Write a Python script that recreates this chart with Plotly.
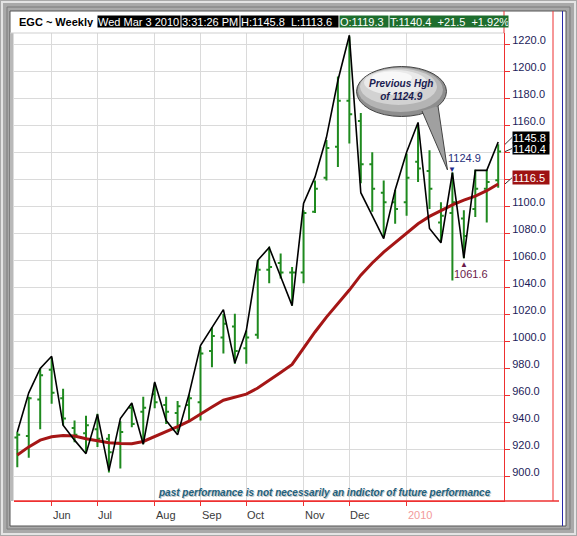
import plotly.graph_objects as go

# ---------------- data ----------------
dates = ["2009-05-15", "2009-05-22", "2009-05-29", "2009-06-05", "2009-06-12", "2009-06-19",
         "2009-06-26", "2009-07-02", "2009-07-10", "2009-07-17", "2009-07-24", "2009-07-31",
         "2009-08-07", "2009-08-14", "2009-08-21", "2009-08-28", "2009-09-04", "2009-09-11",
         "2009-09-18", "2009-09-25", "2009-10-02", "2009-10-09", "2009-10-16", "2009-10-23",
         "2009-10-30", "2009-11-06", "2009-11-13", "2009-11-20", "2009-11-27", "2009-12-04",
         "2009-12-11", "2009-12-18", "2009-12-24", "2009-12-31", "2010-01-08", "2010-01-15",
         "2010-01-22", "2010-01-29", "2010-02-05", "2010-02-12", "2010-02-19", "2010-02-26",
         "2010-03-03"]
high = [933, 959, 980, 988, 965, 941.5, 945, 946.5, 931.5, 941, 954, 959, 969, 959, 956, 961,
        996, 1010.5, 1020.5, 1020.5, 1008, 1060, 1070, 1065, 1055, 1097, 1119, 1149, 1196, 1225.5,
        1169, 1140, 1119, 1112, 1139, 1161, 1141.5, 1103, 1124.9, 1097, 1127, 1127, 1145.8]
low = [907, 914, 935, 954, 938, 925.5, 918, 922, 903, 906, 936.5, 924, 950.5, 939, 933, 941.5,
       941.5, 981, 991, 983.5, 983.5, 1002, 1043, 1046.5, 1026.5, 1043, 1095, 1119, 1129, 1146.5,
       1117, 1096, 1077, 1087, 1093, 1118, 1098, 1073.5, 1045, 1061.6, 1092, 1088, 1113.6]
opens = [929, 930, 957, 979, 958, 936, 932, 935, 928, 925, 951, 948, 961, 953, 947, 953,
         955, 993, 1003, 1011, 995, 1005, 1053, 1058, 1051, 1051, 1096, 1121, 1144, 1178,
         1163, 1131, 1110, 1103, 1103, 1133, 1126, 1088, 1095, 1091, 1098, 1113, 1119.3]
closes = [931, 958, 975, 962, 943, 931, 938, 928, 918, 933, 939, 951, 955, 948, 952, 958,
          991, 1004, 1013, 993, 1003, 1053, 1055, 1051, 1051, 1095, 1113, 1143, 1178, 1168,
          1131, 1113, 1103, 1098, 1121, 1128, 1113, 1093, 1103, 1078, 1113, 1118, 1140.4]
swing_line = [933, 962, 980, 989, 938, 927, 917, 946, 904.5, 943, 954.5, 924, 970, 941.5, 931,
              961, 997, 1010, 1023.5, 984, 1008, 1060, 1069.5, 1048, 1026.5, 1102, 1121.5, 1151,
              1193, 1226.5, 1110, 1093, 1076, 1112, 1140, 1162, 1083.5, 1073, 1124.9, 1061.6,
              1126.5, 1126.5, 1147.5]
moving_avg = [916, 922, 927, 929.5, 930.5, 930, 928, 926.5, 925, 924.5, 924.3, 926, 929.5, 933,
              937, 941, 946.5, 951.5, 956.5, 959, 961, 965.5, 971, 977, 983, 995, 1007, 1018,
              1028, 1038, 1049, 1058, 1066, 1073, 1080, 1087, 1092.5, 1097, 1101, 1104.5,
              1107.5, 1111.5, 1116.5]
month_names = {6: "Jun", 7: "Jul", 8: "Aug", 9: "Sep", 10: "Oct", 11: "Nov", 12: "Dec", 1: "2010"}
y_ticks = [900, 920, 940, 960, 980, 1000, 1020, 1040, 1060, 1080, 1100, 1120, 1140, 1160, 1180, 1200, 1220]
y_hidden = [1120, 1140]  # covered by the price boxes in the original
header_items = ["EGC ~ Weekly", "Wed Mar 3 2010", "3:31:26 PM", "H:1145.8  L:1113.6",
                "O:1119.3", "T:1140.4  +21.5  +1.92%"]
disclaimer = "past performance is not necessarily an indictor of future performance"
callout_text = "Previous Hgh<br>of 1124.9"
hi_idx, lo_idx = 38, 39

# ---------------- geometry helpers ----------------
W, H = 577, 536
L, R, T, B = 14, 504, 33, 501
PW, PH = R - L, B - T
Y0, Y1 = 881.98, 1228.14


def px(x):
    return (x - L) / PW


def py(y):
    return (B - y) / PH


def vy(v):  # value -> pixel y
    return B - (v - Y0) / (Y1 - Y0) * PH


FONT = "Liberation Sans"

# month ticks: first bar of each month
tickvals, ticklabels = [], []
prev = None
for d in dates:
    m = int(d[5:7])
    if prev is not None and m != prev and m in month_names:
        tickvals.append(d)
        ticklabels.append(month_names[m])
    prev = m

fig = go.Figure()
fig.add_trace(go.Ohlc(x=dates, open=opens, high=high, low=low, close=closes,
                      increasing=dict(line=dict(color="#1f8a1f", width=2)),
                      decreasing=dict(line=dict(color="#1f8a1f", width=2)),
                      tickwidth=0.25, hoverinfo="skip", showlegend=False))
fig.add_trace(go.Scatter(x=dates, y=moving_avg, mode="lines",
                         line=dict(color="#a51616", width=3), showlegend=False))
fig.add_trace(go.Scatter(x=dates, y=swing_line, mode="lines",
                         line=dict(color="#000000", width=1.6), showlegend=False))

shapes = []
# frame
shapes.append(dict(type="rect", xref="paper", yref="paper", x0=px(2), x1=px(575), y0=py(2), y1=py(534),
                   line=dict(color="#e4e4e4", width=2), layer="below"))
shapes.append(dict(type="rect", xref="paper", yref="paper", x0=px(7), x1=px(570), y0=py(7), y1=py(529),
                   line=dict(color="#7a7a7a", width=1), layer="below"))
shapes.append(dict(type="rect", xref="paper", yref="paper", x0=px(10), x1=px(566), y0=py(11), y1=py(526),
                   fillcolor="white", line=dict(color="#555555", width=1), layer="below"))
shapes.append(dict(type="rect", xref="paper", yref="paper", x0=px(10), x1=px(13.5), y0=py(33), y1=py(501),
                   fillcolor="#b9b9b9", line=dict(width=0), layer="below"))
# top border of plot
shapes.append(dict(type="line", xref="paper", yref="paper", x0=px(10), x1=px(504), y0=1, y1=1,
                   line=dict(color="#cfcfcf", width=1)))
# right side lines
shapes.append(dict(type="line", xref="paper", yref="paper", x0=px(562.5), x1=px(562.5), y0=py(11), y1=py(526),
                   line=dict(color="#2a2aa8", width=1)))
shapes.append(dict(type="line", xref="paper", yref="paper", x0=px(553), x1=px(553), y0=py(11), y1=py(501),
                   line=dict(color="#ee3030", width=1)))
shapes.append(dict(type="line", xref="paper", yref="paper", x0=px(504), x1=px(504), y0=py(11), y1=py(33),
                   line=dict(color="#ee3030", width=1)))
shapes.append(dict(type="line", xref="paper", yref="paper", x0=px(14), x1=px(559), y0=py(501), y1=py(501),
                   line=dict(color="#ee3030", width=1.5)))

# callout bubble
shapes.append(dict(type="circle", xref="paper", yref="paper", x0=px(356.5), x1=px(446.5),
                   y0=py(116.5), y1=py(66.5), fillcolor="#8e8e8e", line=dict(color="#444444", width=1)))
shapes.append(dict(type="circle", xref="paper", yref="paper", x0=px(358), x1=px(443),
                   y0=py(112), y1=py(67.5), fillcolor="#b4b4b4", line=dict(width=0)))
shapes.append(dict(type="circle", xref="paper", yref="paper", x0=px(360), x1=px(437),
                   y0=py(105), y1=py(68.5), fillcolor="#d2d2d2", line=dict(width=0)))
shapes.append(dict(type="circle", xref="paper", yref="paper", x0=px(364), x1=px(427),
                   y0=py(95), y1=py(70), fillcolor="#eaeaea", line=dict(width=0)))
shapes.append(dict(type="circle", xref="paper", yref="paper", x0=px(372), x1=px(412),
                   y0=py(84), y1=py(71.5), fillcolor="#f8f8f8", line=dict(width=0)))
shapes.append(dict(type="path", xref="paper", yref="paper",
                   path=f"M {px(422)},{py(111)} L {px(447.5)},{py(170)} L {px(438)},{py(106)}",
                   fillcolor="#a0a0a0", line=dict(color="#444444", width=1)))

# connectors to price boxes
last = len(dates) - 1
for v, yc in [(high[last], 137.5), (closes[last], 148.5), (moving_avg[last], 177.8)]:
    shapes.append(dict(type="line", xref="paper", yref="paper", x0=px(505), x1=px(512),
                       y0=py(vy(v)), y1=py(yc), line=dict(color="#333333", width=1)))

annotations = []
# header
hx = [18, 97, 181, 240, 339, 389]
hw = [78, 82, 57, 97, 48, 118]
hbg = [None, "#000000", "#000000", "#000000", "#1e6e2e", "#1e6e2e"]
for i, txt in enumerate(header_items):
    a = dict(xref="paper", yref="paper", x=px(hx[i]), y=py(21.7), xanchor="left", yanchor="middle",
             text=("<b>" + txt + "</b>") if i == 0 else txt, showarrow=False, width=hw[i], height=11,
             align="left", borderpad=0,
             font=dict(family=FONT, size=11, color="#000000" if i == 0 else "#ffffff"))
    if hbg[i]:
        a["bgcolor"] = hbg[i]
    annotations.append(a)

# month labels
for tv, tl in zip(tickvals, ticklabels):
    annotations.append(dict(xref="x", yref="paper", x=tv, y=py(515), xanchor="left", yanchor="middle",
                            text=tl, showarrow=False, xshift=-1,
                            font=dict(family=FONT, size=11, color="#f29a9a" if tl == "2010" else "#3a3a3a")))

# price boxes
for v, yc, bg in [(high[last], 137.5, "#000000"), (closes[last], 148.5, "#000000"),
                  (moving_avg[last], 177.8, "#9e1212")]:
    annotations.append(dict(xref="paper", yref="paper", x=px(512), y=py(yc), xanchor="left",
                            yanchor="middle", text=f"{v:.1f}", showarrow=False, bgcolor=bg,
                            borderpad=0, height=11 if bg == "#000000" else 13, width=36, align="left",
                            font=dict(family=FONT, size=11, color="#ffffff")))

# high / low markers
annotations.append(dict(x=dates[hi_idx], y=high[hi_idx], xref="x", yref="y", text="▼", showarrow=False,
                        xanchor="center", yanchor="middle", yshift=4,
                        font=dict(size=8, color="#1f2a8a")))
annotations.append(dict(x=dates[hi_idx], y=high[hi_idx], xref="x", yref="y", text=f"{high[hi_idx]:.1f}",
                        showarrow=False, xanchor="left", yanchor="middle", yshift=15, xshift=-6,
                        font=dict(family=FONT, size=11, color="#26307a")))
annotations.append(dict(x=dates[lo_idx], y=low[lo_idx], xref="x", yref="y", text="▲", showarrow=False,
                        xanchor="center", yanchor="middle", yshift=-5,
                        font=dict(size=8, color="#6a1a4a")))
annotations.append(dict(x=dates[lo_idx], y=low[lo_idx], xref="x", yref="y", text=f"{low[lo_idx]:.1f}",
                        showarrow=False, xanchor="left", yanchor="middle", yshift=-16, xshift=-12,
                        font=dict(family=FONT, size=11, color="#6a1a4a")))

# callout text
annotations.append(dict(xref="paper", yref="paper", x=px(401), y=py(89.5), xanchor="center", yanchor="middle",
                        text="<b><i>" + callout_text.replace("<br>", "</i></b><br><b><i>") + "</i></b>",
                        showarrow=False, font=dict(family=FONT, size=10, color="#1a2050")))

# disclaimer (with light shadow)
annotations.append(dict(xref="paper", yref="paper", x=px(325), y=py(493), xanchor="center", yanchor="middle",
                        text="<b><i>" + disclaimer + "</i></b>",
                        showarrow=False, font=dict(family=FONT, size=10, color="#c8c8c8")))
annotations.append(dict(xref="paper", yref="paper", x=px(324), y=py(492), xanchor="center", yanchor="middle",
                        text="<b><i>" + disclaimer + "</i></b>",
                        showarrow=False, font=dict(family=FONT, size=10, color="#22607c")))

y_text = ["" if v in y_hidden else f"{v:.1f}" for v in y_ticks]

fig.update_layout(
    width=W, height=H, margin=dict(l=L, r=W - R, t=T, b=H - B),
    paper_bgcolor="#a9a9a9", plot_bgcolor="#ffffff",
    showlegend=False, shapes=shapes, annotations=annotations,
    xaxis=dict(type="category", range=[-0.288, 42.507], tickvals=tickvals, showticklabels=False,
               ticks="outside", ticklen=4, tickcolor="#ee3030", showgrid=True, gridcolor="#dadada",
               showline=True, linecolor="#ee3030", zeroline=False, rangeslider=dict(visible=False),
               fixedrange=True, automargin=False),
    yaxis=dict(side="right", range=[Y0, Y1], tickvals=y_ticks, ticktext=y_text,
               ticks="outside", ticklen=5, tickcolor="#ee3030", showgrid=True, gridcolor="#dadada",
               showline=True, linecolor="#ee3030", zeroline=False, ticklabelshift=-4, automargin=False,
               tickfont=dict(family=FONT, size=11, color="#1c1c5a")),
)

fig.write_html("out.html", config={"displayModeBar": False},
               post_script="document.body.style.margin='0';document.body.style.overflow='hidden';")
